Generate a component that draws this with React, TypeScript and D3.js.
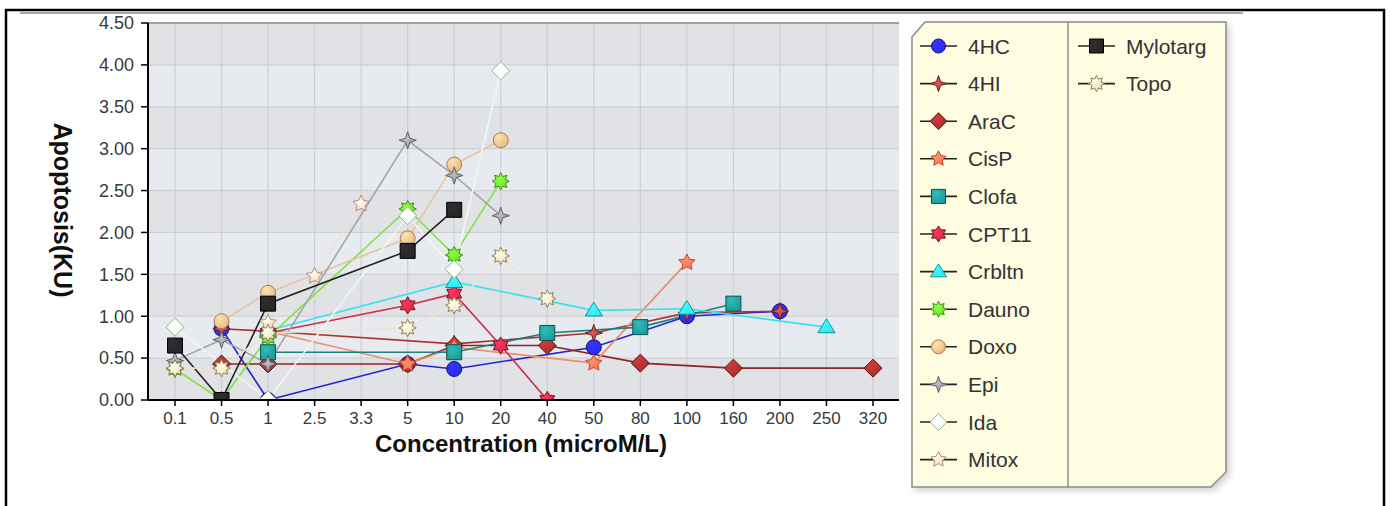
import React from "react";
import * as d3 from "d3";

const concentrations = ["0.1", "0.5", "1", "2.5", "3.3", "5", "10", "20", "40", "50", "80", "100", "160", "200", "250", "320"];
const yTicks = [0, 0.5, 1, 1.5, 2, 2.5, 3, 3.5, 4, 4.5];

// one value per concentration, null where the drug was not measured
const hc4 = [null, 0.85, 0, null, null, 0.43, 0.37, null, null, 0.63, null, 1.0, null, 1.06, null, null];
const hi4 = [null, 0.85, 0.82, null, null, null, 0.67, null, null, 0.8, null, 1.04, null, 1.06, null, null];
const araC = [null, 0.43, 0.43, null, null, 0.43, 0.65, null, 0.65, null, 0.44, null, 0.38, null, null, 0.38];
const cisP = [null, null, 0.82, null, null, 0.43, 0.63, null, null, 0.44, null, 1.64, null, null, null, null];
const clofa = [null, null, 0.57, null, null, null, 0.57, null, 0.8, null, 0.87, null, 1.15, null, null, null];
const cpt11 = [null, null, 0.8, null, null, 1.13, 1.27, 0.65, 0, null, null, null, null, null, null, null];
const crbltn = [null, null, 0.83, null, null, null, 1.41, null, null, 1.07, null, 1.09, null, null, 0.87, null];
const dauno = [0.37, 0, 0.75, null, null, 2.28, 1.73, 2.61, null, null, null, null, null, null, null, null];
const doxo = [null, 0.94, 1.28, null, null, 1.93, 2.81, 3.1, null, null, null, null, null, null, null, null];
const epi = [0.47, 0.72, 0.43, null, null, 3.1, 2.68, 2.2, null, null, null, null, null, null, null, null];
const ida = [0.87, null, 0, null, null, 2.2, 1.56, 3.93, null, null, null, null, null, null, null, null];
const mitox = [null, null, 0.92, 1.48, 2.34, null, null, null, null, null, null, null, null, null, null, null];
const mylotarg = [0.65, 0, 1.15, null, null, 1.78, 2.27, null, null, null, null, null, null, null, null, null];
const topo = [0.38, 0.38, 0.8, null, null, 0.86, 1.13, 1.72, 1.21, null, null, null, null, null, null, null];

const drugs = ["4HC", "4HI", "AraC", "CisP", "Clofa", "CPT11", "Crbltn", "Dauno", "Doxo", "Epi", "Ida", "Mitox", "Mylotarg", "Topo"];
const drugValues = [hc4, hi4, araC, cisP, clofa, cpt11, crbltn, dauno, doxo, epi, ida, mitox, mylotarg, topo];
const shapes = ["circle", "star4", "diamond", "star5", "square", "star6", "triangle", "star8", "circle", "star4", "diamond", "star5", "square", "star8"];
const fills = ["#2b2bf2", "#b84646", "#a82f2f", "#f47858", "#219a98", "#d42c4a", "#34e6f0", "#72e232", "#e6b88a", "#9c9ca4", "#f0fcf0", "#f6d8c4", "#262626", "#efe0c0"];
const strokes = ["#14147a", "#6e1e1e", "#5e1414", "#c2482e", "#0b5252", "#7e1024", "#129494", "#3f8e12", "#a87c52", "#5e5e66", "#9fae9f", "#b08e76", "#000000", "#8e7e4e"];
const lineColors = ["#2424d4", "#a83434", "#8e2424", "#f08a6e", "#1a8080", "#c8304e", "#34e2f2", "#80e240", "#e8c29c", "#a6a6aa", "#eef8ee", "#f6e0d0", "#222222", "#f0e2ce"];

const width = 1391;
const height = 506;
const plot = { left: 148, right: 899, top: 23, bottom: 400 };

function markerPath(kind: string, r: number) {
  if (kind === "circle") return `M${r},0A${r},${r} 0 1 1 ${-r},0A${r},${r} 0 1 1 ${r},0Z`;
  if (kind === "square") return `M${-r},${-r}H${r}V${r}H${-r}Z`;
  if (kind === "diamond") return `M0,${-r * 1.2}L${r * 1.2},0L0,${r * 1.2}L${-r * 1.2},0Z`;
  if (kind === "triangle") return `M0,${-r * 1.1}L${r * 1.15},${r * 0.75}L${-r * 1.15},${r * 0.75}Z`;
  const n = +kind.replace("star", "");
  const inner = n === 4 ? 0.35 : n === 5 ? 0.5 : 0.6;
  const pts = d3.range(n * 2).map((i) => {
    const rr = i % 2 === 0 ? r * 1.15 : r * 1.15 * inner;
    const a = (Math.PI * i) / n - Math.PI / 2;
    return [rr * Math.cos(a), rr * Math.sin(a)];
  });
  return "M" + pts.map((p) => p.join(",")).join("L") + "Z";
}

export default function App() {
  const x = d3.scalePoint().domain(concentrations).range([175, 873]);
  const y = d3.scaleLinear().domain([0, 4.5]).range([plot.bottom, plot.top]);

  // missing concentrations are skipped, the line joins the measured ones
  const line = d3
    .line<[number, number]>()
    .x((d) => x(concentrations[d[0]]) as number)
    .y((d) => y(d[1]));
  const measured = (vals: (number | null)[]) =>
    vals.map((v, j) => [j, v] as [number, number | null]).filter((p) => p[1] !== null) as [number, number][];

  const font = "'Liberation Sans', Arial, sans-serif";

  return (
    <svg width={width} height={height} style={{ position: "absolute", left: 0, top: 0, background: "#fff" }}>
      <defs>
        <clipPath id="plotClip">
          <rect x={plot.left} y={plot.top - 12} width={plot.right - plot.left} height={plot.bottom - plot.top + 12} />
        </clipPath>
        {drugs.map((d, i) => (
          <radialGradient id={`g${i}`} key={d} cx="35%" cy="30%" r="75%">
            <stop offset="0%" stopColor={d3.color(fills[i])!.brighter(0.6).formatHex()} />
            <stop offset="100%" stopColor={fills[i]} />
          </radialGradient>
        ))}
        <filter id="shadow" x="-5%" y="-5%" width="115%" height="115%">
          <feDropShadow dx="3" dy="3" stdDeviation="3" floodColor="#000" floodOpacity="0.18" />
        </filter>
      </defs>

      {/* outer frame */}
      <rect x={6} y={10} width={1378} height={520} fill="none" stroke="#000" strokeWidth={2.5} />
      <line x1={20} x2={1243} y1={13} y2={13} stroke="#8a8a8a" strokeWidth={1.5} />

      {/* plot background bands */}
      {yTicks.slice(0, -1).map((t, i) => (
        <rect
          key={t}
          x={plot.left}
          y={y(t + 0.5)}
          width={plot.right - plot.left}
          height={y(t) - y(t + 0.5)}
          fill={i % 2 === 0 ? "#e1e2e5" : "#e7eaee"}
        />
      ))}
      {yTicks.map((t) => (
        <line key={t} x1={plot.left} x2={plot.right} y1={y(t)} y2={y(t)} stroke="#cdcfd3" strokeWidth={1.2} />
      ))}
      {concentrations.map((c) => (
        <line key={c} x1={x(c)} x2={x(c)} y1={plot.top} y2={plot.bottom} stroke="#cdcfd3" strokeWidth={1.2} />
      ))}
      <line x1={plot.left} x2={plot.right} y1={plot.top} y2={plot.top} stroke="#8e8e8e" strokeWidth={1.5} />

      {/* series */}
      <g clipPath="url(#plotClip)">
        {drugValues.map((vals, i) => (
          <path key={drugs[i]} d={line(measured(vals)) || ""} fill="none" stroke={lineColors[i]} strokeWidth={1.6} />
        ))}
        {drugValues.map((vals, i) =>
          measured(vals).map(([j, v]) => (
            <path
              key={drugs[i] + j}
              transform={`translate(${x(concentrations[j])},${y(v)})`}
              d={markerPath(shapes[i], 7.5)}
              fill={`url(#g${i})`}
              stroke={strokes[i]}
              strokeWidth={1}
            />
          ))
        )}
      </g>

      {/* axes */}
      <line x1={plot.left} x2={plot.left} y1={plot.top} y2={plot.bottom} stroke="#000" strokeWidth={2} />
      <line x1={plot.left} x2={plot.right} y1={plot.bottom} y2={plot.bottom} stroke="#000" strokeWidth={2} />
      {yTicks.map((t) => (
        <g key={t} transform={`translate(0,${y(t)})`}>
          <line x1={141} x2={plot.left} stroke="#000" strokeWidth={1.5} />
          <text x={134} dy="0.35em" textAnchor="end" fontFamily={font} fontSize={18} fill="#3a3a3a">
            {t.toFixed(2)}
          </text>
        </g>
      ))}
      {concentrations.map((c) => (
        <g key={c} transform={`translate(${x(c)},0)`}>
          <line y1={plot.bottom} y2={plot.bottom + 6} stroke="#000" strokeWidth={1.5} />
          <text y={424} textAnchor="middle" fontFamily={font} fontSize={17} fill="#3a3a3a">
            {c}
          </text>
        </g>
      ))}
      <text x={521} y={452} textAnchor="middle" fontFamily={font} fontWeight="bold" fontSize={24} fill="#111">
        Concentration (microM/L)
      </text>
      <text
        transform="translate(54,210) rotate(90)"
        textAnchor="middle"
        fontFamily={font}
        fontWeight="bold"
        fontSize={25}
        fill="#111"
      >
        Apoptosis(KU)
      </text>

      {/* legend */}
      <g filter="url(#shadow)">
        <path
          d="M912,37L925,22L1226,22L1226,472L1211,487L912,487Z"
          fill="#fefde2"
          stroke="#8c8c8c"
          strokeWidth={1.5}
        />
      </g>
      <line x1={1068} x2={1068} y1={22} y2={487} stroke="#8c8c8c" strokeWidth={1.5} />
      {drugs.map((d, i) => {
        const col = i < 12 ? 0 : 1;
        const row = i < 12 ? i : i - 12;
        const lx = col === 0 ? 920 : 1078;
        const ly = 46 + row * 37.6;
        return (
          <g key={d}>
            <line x1={lx} x2={lx + 37} y1={ly} y2={ly} stroke="#222" strokeWidth={1.6} />
            <path
              transform={`translate(${lx + 18.5},${ly})`}
              d={markerPath(shapes[i], 7)}
              fill={`url(#g${i})`}
              stroke={strokes[i]}
              strokeWidth={1}
            />
            <text x={lx + 48} y={ly} dy="0.36em" fontFamily={font} fontSize={21} fill="#333">
              {d}
            </text>
          </g>
        );
      })}
    </svg>
  );
}
